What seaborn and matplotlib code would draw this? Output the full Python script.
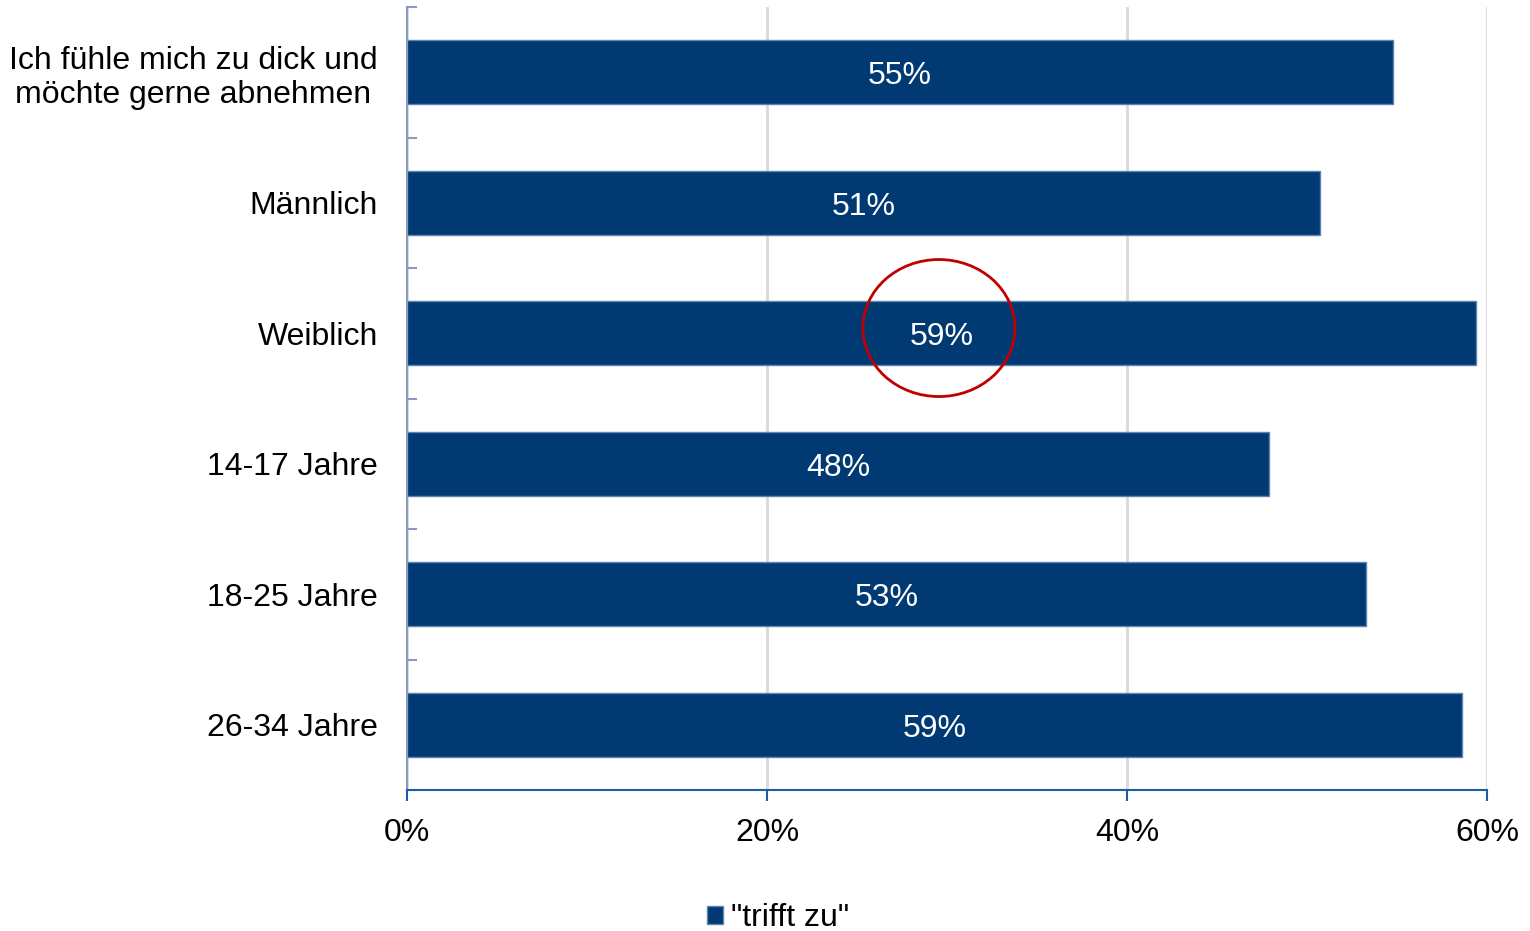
import numpy as np
import pandas as pd
import matplotlib
matplotlib.use('Agg')
import matplotlib.pyplot as plt
from matplotlib.patches import Ellipse
import seaborn as sns

# Daten
kategorien = ['Ich fühle mich zu dick und\nmöchte gerne abnehmen', 'Männlich', 'Weiblich',
              '14-17 Jahre', '18-25 Jahre', '26-34 Jahre']
werte = [54.8, 50.7, 59.4, 47.9, 53.3, 58.6]
serie = '"trifft zu"'
x_ticks = [0, 20, 40, 60]
markiert = 'Weiblich'

df = pd.DataFrame({'kategorie': kategorien, 'wert': werte})

sns.set_theme(style='white')
plt.rcParams['font.family'] = ['Liberation Sans', 'DejaVu Sans']
plt.rcParams['text.color'] = 'black'
plt.rcParams['xtick.labelcolor'] = 'black'
plt.rcParams['ytick.labelcolor'] = 'black'
fs = 23

fig = plt.figure(figsize=(15.3, 9.31), dpi=100)
ax = fig.add_axes([407/1530, 1 - 790/931, (1487 - 407)/1530, (790 - 7)/931])

sns.barplot(data=df, x='wert', y='kategorie', orient='h', color='#013A73',
            width=0.49, saturation=1, edgecolor='#5F84B3', linewidth=1, ax=ax)
labels = ax.bar_label(ax.containers[0], fmt='%.0f%%', label_type='center',
                      color='white', fontsize=fs)
for t in labels:
    t.xyann = (0, -3)

ax.set_xlim(0, 60)
ax.set_ylim(len(kategorien) - 0.5, -0.5)
ax.set_xticks(x_ticks)
ax.set_xticklabels([f'{t}%' for t in x_ticks], fontsize=fs, color='black')
ax.set_xlabel('')
ax.set_ylabel('')
ax.grid(axis='x', color='#D9D9D9', linewidth=2)
ax.set_axisbelow(True)

for lbl in ax.get_yticklabels():
    lbl.set_multialignment('center')
    lbl.set_fontsize(fs)
    lbl.set_color('black')
ax.tick_params(axis='y', length=0, pad=21)
ax.set_yticks(np.arange(-0.5, len(kategorien)), minor=True)
ax.tick_params(axis='y', which='minor', direction='in', length=7,
               width=1.5, color='#8C9AC2', left=True)
ax.tick_params(axis='x', direction='out', length=8, width=1.5,
               color='#1F5AAE', pad=12, bottom=True)

sns.despine(ax=ax, top=True, right=True)
ax.spines['left'].set_color('#8C9AC2')
ax.spines['left'].set_linewidth(1.5)
ax.spines['bottom'].set_color('#1F5AAE')
ax.spines['bottom'].set_linewidth(1.5)

# Markierung Weiblich
i = kategorien.index(markiert)
ax.add_patch(Ellipse((werte[i] / 2 - 0.15, i - 0.04), width=8.45, height=1.05,
                     fill=False, edgecolor='#C00000', linewidth=2, zorder=5))

leg = fig.legend([ax.containers[0]], [serie], loc='center',
                 bbox_to_anchor=(778/1530, 1 - 918/931), frameon=False, fontsize=fs,
                 handlelength=0.5, handleheight=0.5, handletextpad=0.25)
for t in leg.get_texts():
    t.set_color('black')

plt.savefig('out.png', dpi=100)
plt.close()
